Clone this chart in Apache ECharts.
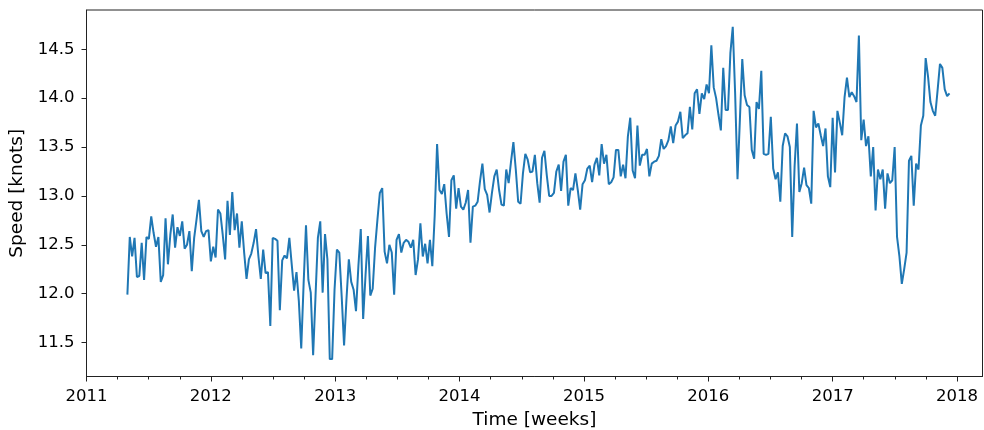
<!DOCTYPE html>
<html><head><meta charset="utf-8">
<script src="https://cdn.jsdelivr.net/npm/echarts@6/dist/echarts.min.js"></script>
<style>html,body{margin:0;padding:0;background:#fff}#c{width:984px;height:430px}</style>
</head><body><div id="c"></div>
<script>
// first weekly observation (Sunday), one value per week after that
const startDate = [2011, 5, 1];
const speed = [
11.99,12.58,12.38,12.57,12.17,12.18,12.52,12.14,12.58,12.56,
12.79,12.62,12.48,12.58,12.12,12.19,12.77,12.30,12.60,12.81,
12.47,12.68,12.59,12.74,12.46,12.50,12.64,12.23,12.57,12.76,
12.96,12.64,12.58,12.64,12.65,12.33,12.48,12.37,12.86,12.82,
12.60,12.35,12.95,
12.60,13.04,12.65,12.82,12.47,12.74,12.42,12.15,12.35,12.41,
12.52,12.66,12.38,12.15,12.45,12.21,12.22,11.67,12.57,12.56,
12.54,11.83,12.34,12.39,12.36,12.57,12.30,12.03,12.22,11.92,
11.44,12.10,12.70,12.14,12.01,11.37,11.97,12.57,12.74,12.01,
12.61,12.35,11.33,11.33,12.04,
12.45,12.42,11.97,11.47,11.94,12.35,12.12,12.04,11.82,12.28,
12.66,11.74,12.19,12.59,11.98,12.05,12.47,12.76,13.03,13.08,
12.43,12.31,12.50,12.42,11.99,12.55,12.61,12.42,12.52,12.55,
12.53,12.47,12.55,12.19,12.35,12.72,12.38,12.51,12.31,12.55,
12.28,12.80,13.53,13.06,
13.02,13.12,12.82,12.58,13.16,13.21,12.87,13.08,12.89,12.86,
12.93,13.06,12.52,12.89,12.90,12.94,13.15,13.33,13.07,13.01,
12.83,13.03,13.20,13.27,13.06,12.91,12.90,13.27,13.13,13.35,
13.55,13.27,12.94,12.92,13.23,13.43,13.37,13.24,13.25,13.42,
13.13,12.93,13.39,13.46,
13.21,13.00,13.00,13.03,13.25,13.32,13.05,13.35,13.42,12.90,
13.08,13.06,13.23,13.06,12.86,13.12,13.16,13.28,13.31,13.14,
13.32,13.39,13.21,13.53,13.33,13.42,13.12,13.14,13.19,13.47,
13.47,13.20,13.32,13.18,13.61,13.80,13.26,13.18,13.72,13.31,
13.42,13.42,13.48,13.20,
13.33,13.35,13.36,13.41,13.58,13.48,13.51,13.57,13.71,13.54,
13.72,13.76,13.86,13.59,13.62,13.64,13.91,13.68,14.05,14.09,
13.84,14.05,13.99,14.14,14.05,14.54,14.11,14.00,13.83,13.67,
14.31,13.88,13.88,14.46,14.73,14.05,13.17,13.78,14.40,14.03,
13.93,13.91,13.47,13.38,
13.96,13.89,14.28,13.43,13.42,13.43,13.81,13.28,13.17,13.24,
12.94,13.51,13.64,13.61,13.50,12.58,13.30,13.74,13.04,13.13,
13.29,13.11,13.08,12.92,13.87,13.70,13.74,13.62,13.51,13.69,
13.20,13.09,13.80,13.24,13.87,13.75,13.62,14.01,14.21,14.01,
14.06,14.02,13.96,14.64,
13.57,13.78,13.51,13.61,13.20,13.50,12.85,13.27,13.17,13.27,
12.87,13.23,13.13,13.16,13.50,12.58,12.38,12.10,12.25,12.42,
13.36,13.41,12.90,13.33,13.27,13.72,13.82,14.41,14.22,13.96,
13.87,13.82,14.08,14.35,14.31,14.09,14.02,14.05
];
const xTicks = [2011, 2012, 2013, 2014, 2015, 2016, 2017, 2018];
const yTicks = [11.5, 12.0, 12.5, 13.0, 13.5, 14.0, 14.5];

const DAY = 86400000;
const t0 = Date.UTC(startDate[0], startDate[1] - 1, startDate[2]);
function fracYear(t) {
  const y = new Date(t).getUTCFullYear();
  const a = Date.UTC(y, 0, 1), b = Date.UTC(y + 1, 0, 1);
  return y + (t - a) / (b - a);
}
const data = speed.map((v, i) => [fracYear(t0 + i * 7 * DAY), v]);

const font = 'DejaVu Sans';
const chart = echarts.init(document.getElementById('c'), null, {renderer: 'canvas'});
chart.setOption({
  animation: false,
  grid: {left: 86.5, right: 1.5, top: 10, bottom: 53.5, show: true,
         containLabel: false, outerBoundsMode: 'none',
         borderColor: '#222', borderWidth: 1, backgroundColor: 'transparent'},
  xAxis: {
    type: 'value', min: 2011, max: 2018.205, interval: 1,
    name: 'Time [weeks]', nameLocation: 'middle', nameGap: 34,
    nameTextStyle: {fontFamily: font, fontSize: 18.5, color: '#000'},
    axisLine: {show: true, onZero: false, lineStyle: {color: '#222', width: 1}},
    axisTick: {show: true, length: 5, customValues: xTicks, lineStyle: {color: '#222'}},
    minorTick: {show: true, splitNumber: 4, length: 3, lineStyle: {color: '#222'}},
    axisLabel: {customValues: xTicks, margin: 12, fontFamily: font, fontSize: 16.5, color: '#000',
                formatter: v => String(Math.round(v))},
    splitLine: {show: false}, minorSplitLine: {show: false}
  },
  yAxis: {
    type: 'value', min: 11.152, max: 14.902,
    name: 'Speed [knots]', nameLocation: 'middle', nameGap: 53, nameRotate: 90,
    nameTextStyle: {fontFamily: font, fontSize: 18.5, color: '#000'},
    axisLine: {show: true, onZero: false, lineStyle: {color: '#222', width: 1}},
    axisTick: {show: true, length: 5, customValues: yTicks, lineStyle: {color: '#222'}},
    axisLabel: {customValues: yTicks, margin: 12, fontFamily: font, fontSize: 16.5, color: '#000',
                formatter: v => v.toFixed(1)},
    splitLine: {show: false}
  },
  series: [{
    type: 'line', data: data, showSymbol: false, symbol: 'none', sampling: null,
    lineStyle: {color: '#1f77b4', width: 2}, clip: true
  }]
});
</script>
</body></html>
